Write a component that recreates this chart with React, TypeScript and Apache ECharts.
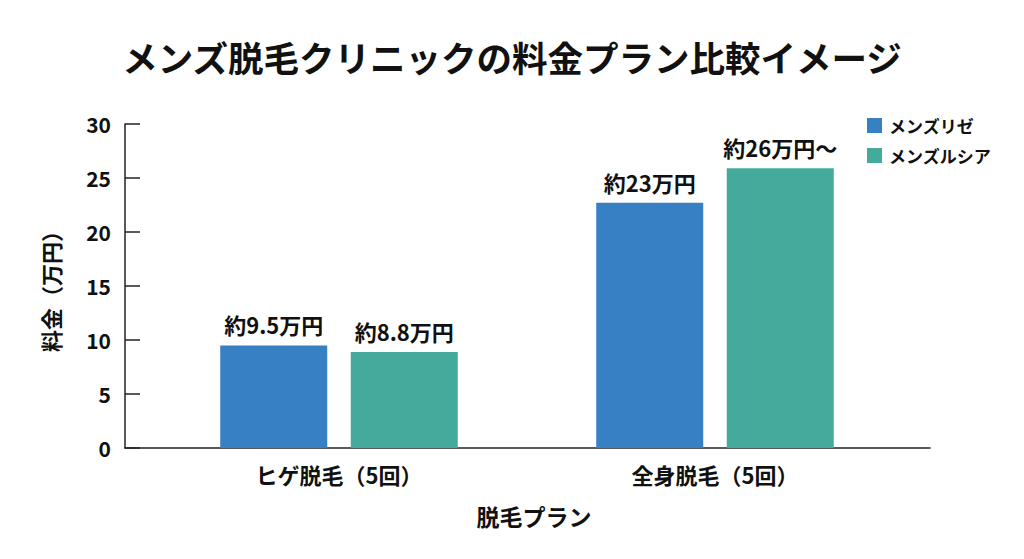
import React, { useEffect, useRef } from "react";
import * as echarts from "echarts";

const titleText = "メンズ脱毛クリニックの料金プラン比較イメージ";
const categories = ["ヒゲ脱毛（5回）", "全身脱毛（5回）"];
const seriesNames = ["メンズリゼ", "メンズルシア"];
const rizeValues = [9.5, 22.7];
const ruciaValues = [8.9, 25.9];
const rizeLabels = ["約9.5万円", "約23万円"];
const ruciaLabels = ["約8.8万円", "約26万円〜"];
const yMin = 0;
const yMax = 30;
const yInterval = 5;

const FONT = '"Noto Sans CJK JP", "Noto Sans", sans-serif';
const BLUE = "#3780c4";
const GREEN = "#44aa9b";
const INK = "#111111";

export default function App() {
  const ref = useRef<HTMLDivElement>(null);

  useEffect(() => {
    if (!ref.current) return;
    const chart = echarts.init(ref.current, null, { renderer: "svg" });
    const labelStyle = {
      show: true,
      position: "top",
      distance: 10,
      fontSize: 22,
      fontWeight: "bold",
      color: INK,
      fontFamily: FONT,
    };
    chart.setOption({
      animation: false,
      backgroundColor: "#ffffff",
      textStyle: { fontFamily: FONT },
      title: {
        text: titleText,
        left: "center",
        top: 34,
        textStyle: { fontSize: 35.5, fontWeight: "bold", color: INK, fontFamily: FONT },
      },
      legend: {
        orient: "vertical",
        left: 862,
        top: 112,
        itemWidth: 15,
        itemHeight: 15,
        itemGap: 13,
        icon: "rect",
        data: seriesNames,
        textStyle: { fontSize: 17, fontWeight: "bold", color: INK, fontFamily: FONT, padding: [0, 0, 0, 2] },
      },
      grid: [
        { left: 125, right: 94, top: 124, bottom: 111 },
        { left: 151, right: 121, top: 124, bottom: 111 },
      ],
      xAxis: [
        {
          gridIndex: 0,
          type: "value",
          min: 0,
          max: 1,
          axisLine: { show: true, lineStyle: { color: "#222", width: 1.5 } },
          axisTick: { show: false },
          axisLabel: { show: false },
          splitLine: { show: false },
        },
        {
          gridIndex: 1,
          type: "category",
          data: categories,
          axisLine: { show: false },
          axisTick: { show: false },
          axisLabel: { fontSize: 22, fontWeight: "bold", color: INK, margin: 15, fontFamily: FONT },
          name: "脱毛プラン",
          nameLocation: "middle",
          nameGap: 56,
          nameTextStyle: { fontSize: 23, fontWeight: "bold", color: INK, fontFamily: FONT, padding: [0, 0, 0, 14] },
        },
      ],
      yAxis: [
        {
          gridIndex: 0,
          type: "value",
          min: yMin,
          max: yMax,
          interval: yInterval,
          axisLine: { show: true, lineStyle: { color: "#222", width: 1.5 } },
          axisTick: { show: true, inside: true, length: 15, lineStyle: { color: "#222", width: 1.5 } },
          axisLabel: { fontSize: 21, fontWeight: "bold", color: INK, margin: 14, fontFamily: FONT },
          splitLine: { show: false },
          name: "料金（万円）",
          nameLocation: "middle",
          nameGap: 64,
          nameTextStyle: { fontSize: 22, fontWeight: "bold", color: INK, fontFamily: FONT },
        },
        {
          gridIndex: 1,
          type: "value",
          min: yMin,
          max: yMax,
          show: false,
        },
      ],
      series: [
        {
          name: seriesNames[0],
          type: "bar",
          xAxisIndex: 1,
          yAxisIndex: 1,
          data: rizeValues,
          barWidth: 107,
          barGap: "22%",
          itemStyle: { color: BLUE },
          label: { ...labelStyle, formatter: (p: any) => rizeLabels[p.dataIndex] },
        },
        {
          name: seriesNames[1],
          type: "bar",
          xAxisIndex: 1,
          yAxisIndex: 1,
          data: ruciaValues,
          barWidth: 107,
          barGap: "22%",
          itemStyle: { color: GREEN },
          label: { ...labelStyle, formatter: (p: any) => ruciaLabels[p.dataIndex] },
        },
      ],
    });
    return () => chart.dispose();
  }, []);

  return (
    <div
      ref={ref}
      style={{ position: "fixed", left: 0, top: 0, width: 1024, height: 559, background: "#fff" }}
    />
  );
}
